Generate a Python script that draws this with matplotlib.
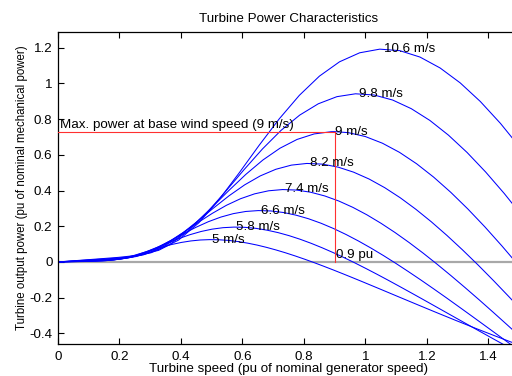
import matplotlib
matplotlib.use("Agg")
import matplotlib.pyplot as plt

plt.rcParams['font.family'] = ['Liberation Sans', 'DejaVu Sans']

wind_labels = ["5 m/s", "5.8 m/s", "6.6 m/s", "7.4 m/s", "8.2 m/s", "9 m/s", "9.8 m/s", "10.6 m/s"]

speed_5 = [0, 0.0617, 0.0926, 0.1235, 0.1543, 0.1852, 0.2160, 0.2469, 0.2778, 0.3086, 0.3395, 0.3704,
           0.4012, 0.4321, 0.4630, 0.4938, 0.5247, 0.5556, 0.5864, 0.6173, 0.6481, 0.6790, 0.7099, 0.7407,
           0.7716, 0.8025, 0.8333, 0.8642, 0.8951, 0.9259, 0.9568, 0.9877, 1.0185, 1.0494, 1.1111, 1.1728,
           1.2346, 1.2963, 1.3580, 1.4198, 1.4815, 1.5432]
power_5 = [0, 0.0018, 0.0027, 0.0039, 0.0068, 0.0129, 0.0230, 0.0365, 0.0522, 0.0686, 0.0841, 0.0980,
           0.1093, 0.1177, 0.1230, 0.1251, 0.1242, 0.1205, 0.1141, 0.1053, 0.0944, 0.0815, 0.0669, 0.0510,
           0.0337, 0.0154, -0.0038, -0.0238, -0.0444, -0.0655, -0.0870, -0.1088, -0.1308, -0.1529, -0.1974, -0.2417,
           -0.2857, -0.3290, -0.3714, -0.4129, -0.4534, -0.4928]

speed_58 = [0, 0.0716, 0.1074, 0.1432, 0.1790, 0.2148, 0.2506, 0.2864, 0.3222, 0.3580, 0.3938, 0.4296,
            0.4654, 0.5012, 0.5370, 0.5728, 0.6086, 0.6444, 0.6802, 0.7160, 0.7519, 0.7877, 0.8235, 0.8593,
            0.8951, 0.9309, 0.9667, 1.0025, 1.0383, 1.0741, 1.1099, 1.1457, 1.1815, 1.2173, 1.2889, 1.3605,
            1.4321, 1.5037]
power_58 = [0, 0.0028, 0.0042, 0.0062, 0.0106, 0.0202, 0.0359, 0.0570, 0.0815, 0.1070, 0.1313, 0.1529,
            0.1706, 0.1837, 0.1920, 0.1953, 0.1939, 0.1881, 0.1780, 0.1644, 0.1473, 0.1272, 0.1045, 0.0795,
            0.0526, 0.0240, -0.0060, -0.0372, -0.0693, -0.1022, -0.1358, -0.1698, -0.2041, -0.2387, -0.3081, -0.3773,
            -0.4459, -0.5135]

speed_66 = [0, 0.0815, 0.1222, 0.1630, 0.2037, 0.2444, 0.2852, 0.3259, 0.3667, 0.4074, 0.4481, 0.4889,
            0.5296, 0.5704, 0.6111, 0.6519, 0.6926, 0.7333, 0.7741, 0.8148, 0.8556, 0.8963, 0.9370, 0.9778,
            1.0185, 1.0593, 1.1000, 1.1407, 1.1815, 1.2222, 1.2630, 1.3037, 1.3444, 1.3852, 1.4667, 1.5481]
power_66 = [0, 0.0041, 0.0062, 0.0091, 0.0157, 0.0297, 0.0529, 0.0840, 0.1201, 0.1577, 0.1935, 0.2253,
            0.2513, 0.2707, 0.2829, 0.2878, 0.2857, 0.2771, 0.2623, 0.2422, 0.2170, 0.1874, 0.1540, 0.1172,
            0.0776, 0.0354, -0.0088, -0.0548, -0.1021, -0.1506, -0.2000, -0.2502, -0.3007, -0.3517, -0.4539, -0.5559]

speed_74 = [0, 0.0914, 0.1370, 0.1827, 0.2284, 0.2741, 0.3198, 0.3654, 0.4111, 0.4568, 0.5025, 0.5481,
            0.5938, 0.6395, 0.6852, 0.7309, 0.7765, 0.8222, 0.8679, 0.9136, 0.9593, 1.0049, 1.0506, 1.0963,
            1.1420, 1.1877, 1.2333, 1.2790, 1.3247, 1.3704, 1.4160, 1.4617, 1.5074]
power_74 = [0, 0.0058, 0.0087, 0.0128, 0.0221, 0.0419, 0.0746, 0.1184, 0.1693, 0.2223, 0.2727, 0.3175,
            0.3542, 0.3815, 0.3987, 0.4056, 0.4027, 0.3906, 0.3698, 0.3414, 0.3059, 0.2642, 0.2170, 0.1652,
            0.1093, 0.0499, -0.0124, -0.0772, -0.1440, -0.2123, -0.2819, -0.3526, -0.4239]

speed_82 = [0, 0.1012, 0.1519, 0.2025, 0.2531, 0.3037, 0.3543, 0.4049, 0.4556, 0.5062, 0.5568, 0.6074,
            0.6580, 0.7086, 0.7593, 0.8099, 0.8605, 0.9111, 0.9617, 1.0123, 1.0630, 1.1136, 1.1642, 1.2148,
            1.2654, 1.3160, 1.3667, 1.4173, 1.4679, 1.5185]
power_82 = [0, 0.0078, 0.0119, 0.0174, 0.0300, 0.0569, 0.1015, 0.1612, 0.2304, 0.3024, 0.3711, 0.4320,
            0.4820, 0.5191, 0.5425, 0.5519, 0.5480, 0.5314, 0.5031, 0.4645, 0.4162, 0.3595, 0.2953, 0.2248,
            0.1487, 0.0679, -0.0169, -0.1050, -0.1959, -0.2888]

speed_9 = [0, 0.1111, 0.1667, 0.2222, 0.2778, 0.3333, 0.3889, 0.4444, 0.5000, 0.5556, 0.6111, 0.6667,
           0.7222, 0.7778, 0.8333, 0.8889, 0.9000, 0.9444, 1.0000, 1.0556, 1.1111, 1.1667, 1.2222, 1.2778,
           1.3333, 1.3889, 1.4444, 1.5000]
power_9 = [0, 0.0103, 0.0157, 0.0230, 0.0397, 0.0753, 0.1341, 0.2131, 0.3046, 0.3998, 0.4906, 0.5712,
           0.6372, 0.6864, 0.7172, 0.7297, 0.7300, 0.7245, 0.7026, 0.6652, 0.6141, 0.5502, 0.4753, 0.3904,
           0.2972, 0.1966, 0.0897, -0.0224]

speed_98 = [0, 0.1210, 0.1815, 0.2420, 0.3025, 0.3630, 0.4235, 0.4840, 0.5444, 0.6049, 0.6654, 0.7259,
            0.7864, 0.8469, 0.9074, 0.9679, 1.0284, 1.0889, 1.1494, 1.2099, 1.2704, 1.3309, 1.3914, 1.4519,
            1.5123]
power_98 = [0, 0.0134, 0.0202, 0.0297, 0.0513, 0.0972, 0.1732, 0.2751, 0.3933, 0.5162, 0.6334, 0.7375,
            0.8227, 0.8861, 0.9260, 0.9421, 0.9354, 0.9071, 0.8588, 0.7929, 0.7104, 0.6136, 0.5040, 0.3837,
            0.2539]

speed_106 = [0, 0.1309, 0.1963, 0.2617, 0.3272, 0.3926, 0.4580, 0.5235, 0.5889, 0.6543, 0.7198, 0.7852,
             0.8506, 0.9160, 0.9815, 1.0469, 1.1123, 1.1778, 1.2432, 1.3086, 1.3741, 1.4395, 1.5049]
power_106 = [0, 0.0169, 0.0256, 0.0375, 0.0649, 0.1230, 0.2192, 0.3481, 0.4977, 0.6532, 0.8016, 0.9333,
             1.0411, 1.1213, 1.1718, 1.1922, 1.1837, 1.1479, 1.0868, 1.0033, 0.8990, 0.7765, 0.6378]

label_x = [0.50, 0.58, 0.66, 0.74, 0.82, 0.90, 0.98, 1.06]
label_y = [0.125, 0.195, 0.288, 0.406, 0.552, 0.730, 0.942, 1.193]

base_speed = 0.9
base_power = 0.73

xticks = [0, 0.2, 0.4, 0.6, 0.8, 1.0, 1.2, 1.4]
xtick_labels = ["0", "0.2", "0.4", "0.6", "0.8", "1", "1.2", "1.4"]
yticks = [-0.4, -0.2, 0, 0.2, 0.4, 0.6, 0.8, 1.0, 1.2]
ytick_labels = ["-0.4", "-0.2", "0", "0.2", "0.4", "0.6", "0.8", "1", "1.2"]

speeds = [speed_5, speed_58, speed_66, speed_74, speed_82, speed_9, speed_98, speed_106]
powers = [power_5, power_58, power_66, power_74, power_82, power_9, power_98, power_106]

fig = plt.figure(figsize=(5.12, 3.76), dpi=100)
ax = fig.add_axes([0.1133, 0.0859, 0.9004, 0.8298])

ax.plot([0, 1.5], [0, 0], color='#a8a8a8', lw=1.6, zorder=1)
for sx, py in zip(speeds, powers):
    ax.plot(sx, py, color='#0000ff', lw=0.75, zorder=2)
ax.plot([0, base_speed], [base_power, base_power], color='#ff3030', lw=0.8, zorder=3)
ax.plot([base_speed, base_speed], [0, base_power], color='#ff3030', lw=0.8, zorder=3)

fs = 9.6
for lx, ly, lab in zip(label_x, label_y, wind_labels):
    ax.text(lx, ly, lab, ha='left', va='center', fontsize=fs, zorder=4)
ax.text(0.005, 0.77, "Max. power at base wind speed (9 m/s)", ha='left', va='center', fontsize=fs)
ax.text(0.905, 0.04, "0.9 pu", ha='left', va='center', fontsize=fs)

ax.set_xlim(0, 1.5)
ax.set_ylim(-0.458, 1.29)
ax.set_xticks(xticks)
ax.set_xticklabels(xtick_labels)
ax.set_yticks(yticks)
ax.set_yticklabels(ytick_labels)
ax.tick_params(direction='in', length=4, width=0.8, labelsize=fs, top=True, right=False, pad=4)
ax.tick_params(axis='x', pad=5.5)
for sp in ax.spines.values():
    sp.set_linewidth(0.9)
ax.spines['right'].set_visible(False)

ax.set_title("Turbine Power Characteristics", fontsize=fs, pad=7)
ax.set_xlabel("Turbine speed (pu of nominal generator speed)", fontsize=fs, labelpad=-0.5)
ax.set_ylabel("Turbine output power (pu of nominal mechanical power)", fontsize=8.3, labelpad=1)

fig.savefig("out.png", dpi=100)
